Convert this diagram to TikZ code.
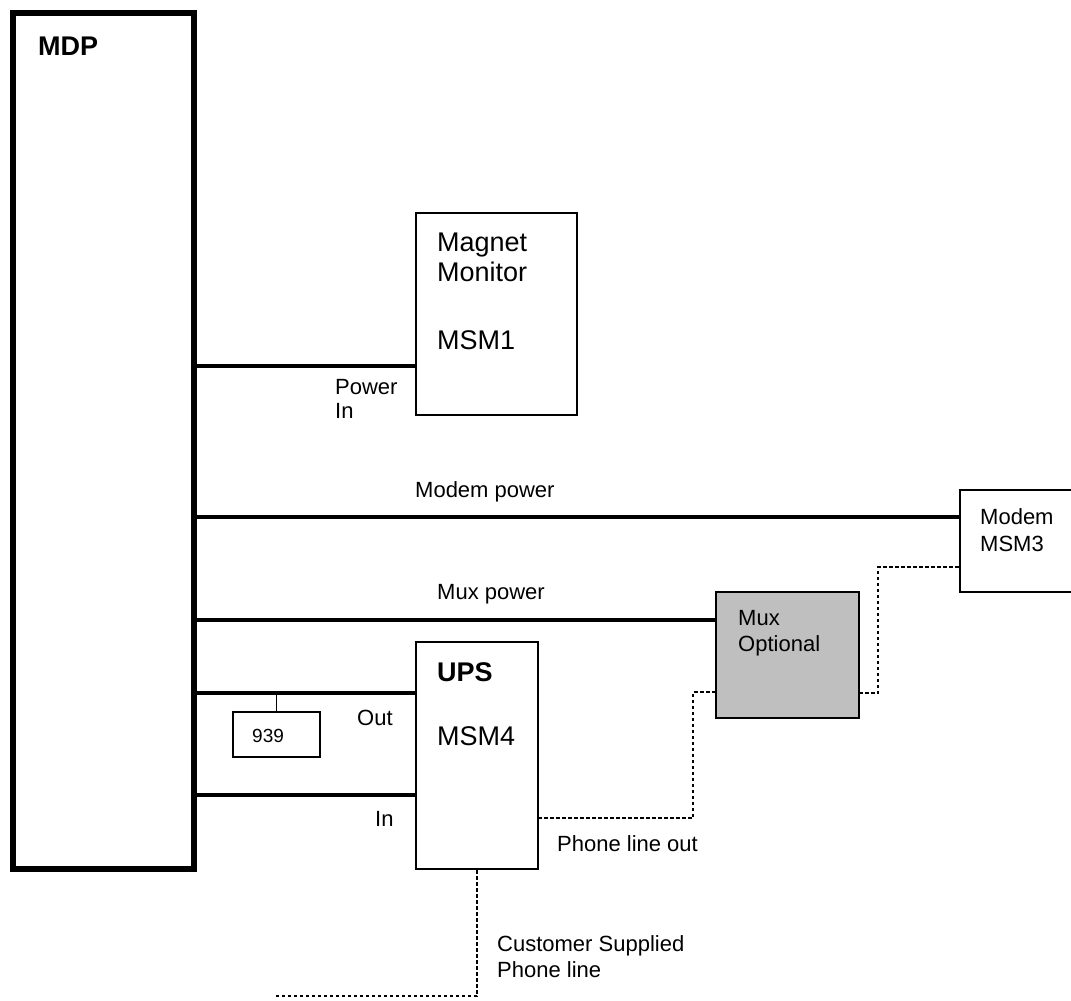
\documentclass[tikz,border=0pt]{standalone}
\usepackage{fontspec}
\setmainfont{Liberation Sans}

\begin{document}
\begin{tikzpicture}[
    x=1pt, y=-1pt,
    mdpbox/.style={rectangle, draw, line width=6pt, inner sep=0pt},
    unit/.style={rectangle, draw, line width=2.4pt, inner sep=0pt},
    muxbox/.style={unit, fill=black!25},
    pline/.style={line width=3.6pt},
    phone/.style={line width=2.4pt, dash pattern=on 3.5pt off 2.5pt},
    big/.style={inner sep=0pt, anchor=base west, align=left,
                font=\fontsize{27}{30}\selectfont},
    small/.style={inner sep=0pt, anchor=base west, align=left,
                  font=\fontsize{22}{26}\selectfont}
]
  \path[use as bounding box, clip] (0,0) rectangle (1071,1001);

  % boxes
  \node[mdpbox, minimum width=181pt, minimum height=856pt] (mdp) at (103.5,441) {};
  \node[unit, minimum width=161pt, minimum height=202pt] (mm) at (496.5,314) {};
  \node[unit, minimum width=140pt, minimum height=102pt] (modem) at (1030,541) {};
  \node[muxbox, minimum width=143pt, minimum height=126pt] (mux) at (787.5,655) {};
  \node[unit, minimum width=122pt, minimum height=227pt] (ups) at (477,755.5) {};
  \node[unit, line width=1.8pt, minimum width=87pt, minimum height=45pt] (b939) at (276.5,734.5) {};

  % texts (base = last line)
  \node[big, font=\fontsize{27}{30}\selectfont\bfseries] (mdplbl) at (38,55) {MDP};
  \node[big] (mmlbl) at (437,281) {Magnet\\Monitor};
  \node[big] (mmid) at (437,349) {MSM1};
  \node[small, font=\fontsize{22}{24}\selectfont] (pwrin) at (335,418) {Power\\In};
  \node[small] (mdmpwr) at (415,497) {Modem power};
  \node[small, font=\fontsize{22}{27}\selectfont] (mdmlbl) at (980,551) {Modem\\MSM3};
  \node[small] (muxpwr) at (437,599) {Mux power};
  \node[small] (muxlbl) at (738,651) {Mux\\Optional};
  \node[big, font=\fontsize{27}{30}\selectfont\bfseries] (upslbl) at (437,681) {UPS};
  \node[big] (upsid) at (437,745) {MSM4};
  \node[small] (outlbl) at (357,725) {Out};
  \node[small] (inlbl) at (375,826) {In};
  \node[small, font=\fontsize{19}{22}\selectfont] (num) at (252,742) {939};
  \node[small] (phout) at (557,851) {Phone line out};
  \node[small] (cust) at (497,977) {Customer Supplied\\Phone line};

  % power lines
  \coordinate (mmin) at (416,366);
  \coordinate (mdmin) at (960,517);
  \coordinate (muxin) at (716,620);
  \coordinate (upsout) at (416,693);
  \coordinate (upsin) at (416,795);
  \draw[pline] (mdp.east |- mmin) -- (mmin);
  \draw[pline] (mdp.east |- mdmin) -- (mdmin);
  \draw[pline] (mdp.east |- muxin) -- (muxin);
  \draw[pline] (mdp.east |- upsout) -- (upsout);
  \draw[pline] (mdp.east |- upsin) -- (upsin);
  \draw[line width=1.8pt] (b939.north) -- (b939.north |- upsout);

  % phone lines
  \coordinate (upsph) at (538,818);
  \coordinate (muxph) at (716,692);
  \coordinate (muxout) at (859,693);
  \coordinate (mdmph) at (960,567);
  \draw[phone] (upsph) -- ++(155,0) |- (muxph);
  \draw[phone] (muxout) -- ++(19,0) |- (mdmph);
  \draw[phone] (ups.south) -- ++(0,126) -- ++(-203,0);
\end{tikzpicture}
\end{document}
